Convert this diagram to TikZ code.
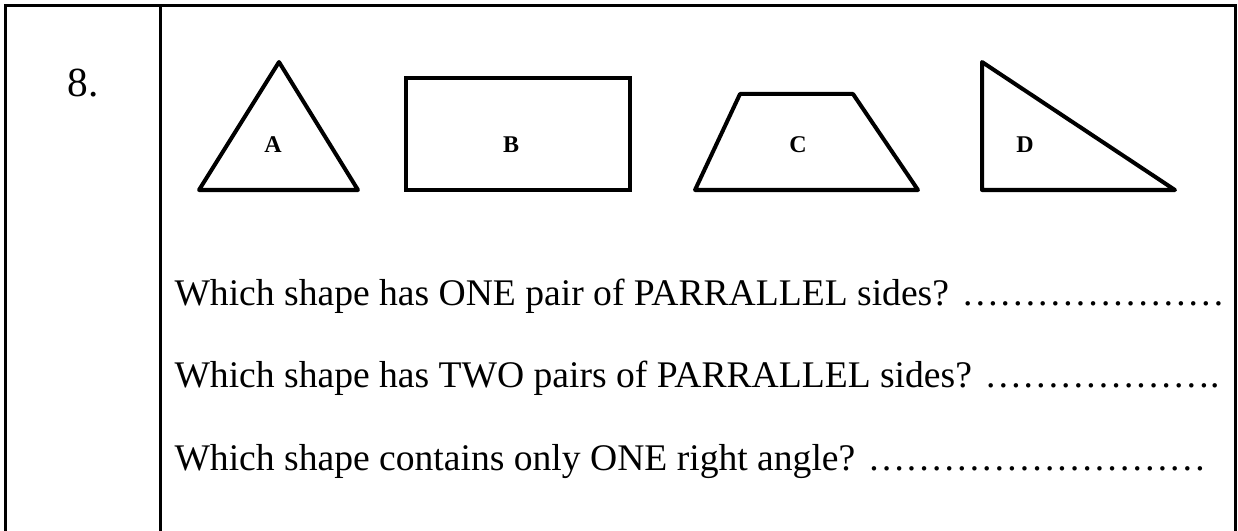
\documentclass[tikz,border=0pt]{standalone}
\usepackage{fontspec}
\setmainfont{Liberation Serif}

\tikzset{every picture/.style={line width=0.75pt}}

\begin{document}
\begin{tikzpicture}[x=0.75pt,y=0.75pt,yscale=-1,xscale=1]
\useasboundingbox (0,0) rectangle (1238,531);
% Table lines
\draw [line width=2.25pt] (5,531) -- (5,6) -- (1235,6) -- (1235,531) ;
\draw [line width=2.25pt] (160,6) -- (160,531) ;
% Shape A
\draw [line width=3pt,line join=round] (279,62) -- (358,190) -- (199,190) -- cycle ;
% Shape B
\draw [line width=3pt] (406,78) -- (630,78) -- (630,190) -- (406,190) -- cycle ;
% Shape C
\draw [line width=3pt,line join=round] (740,94) -- (853,94) -- (918,190) -- (695,190) -- cycle ;
% Shape D
\draw [line width=3pt,line join=round] (982,62) -- (1175,190) -- (982,190) -- cycle ;
% Text Node
\draw (66,97) node [anchor=base west][inner sep=0.75pt,font=\fontsize{31}{38}\selectfont] (num) {8.};
% Text Node
\draw (273,152) node [anchor=base][inner sep=0.75pt,font=\fontsize{18}{22}\selectfont\bfseries] (labA) {A};
% Text Node
\draw (511,152) node [anchor=base][inner sep=0.75pt,font=\fontsize{18}{22}\selectfont\bfseries] (labB) {B};
% Text Node
\draw (798,152) node [anchor=base][inner sep=0.75pt,font=\fontsize{18}{22}\selectfont\bfseries] (labC) {C};
% Text Node
\draw (1025,152) node [anchor=base][inner sep=0.75pt,font=\fontsize{18}{22}\selectfont\bfseries] (labD) {D};
% Text Node
\draw (173,305) node [anchor=base west][inner sep=0.75pt,font=\fontsize{28.2}{34}\selectfont] (qone) {Which shape has ONE pair of PARRALLEL sides? …………………};
% Text Node
\draw (173,387) node [anchor=base west][inner sep=0.75pt,font=\fontsize{28.2}{34}\selectfont] (qtwo) {Which shape has TWO pairs of PARRALLEL sides? ……………….};
% Text Node
\draw (173,470) node [anchor=base west][inner sep=0.75pt,font=\fontsize{28.2}{34}\selectfont] (qthree) {Which shape contains only ONE right angle? ………………………};
\end{tikzpicture}
\end{document}
